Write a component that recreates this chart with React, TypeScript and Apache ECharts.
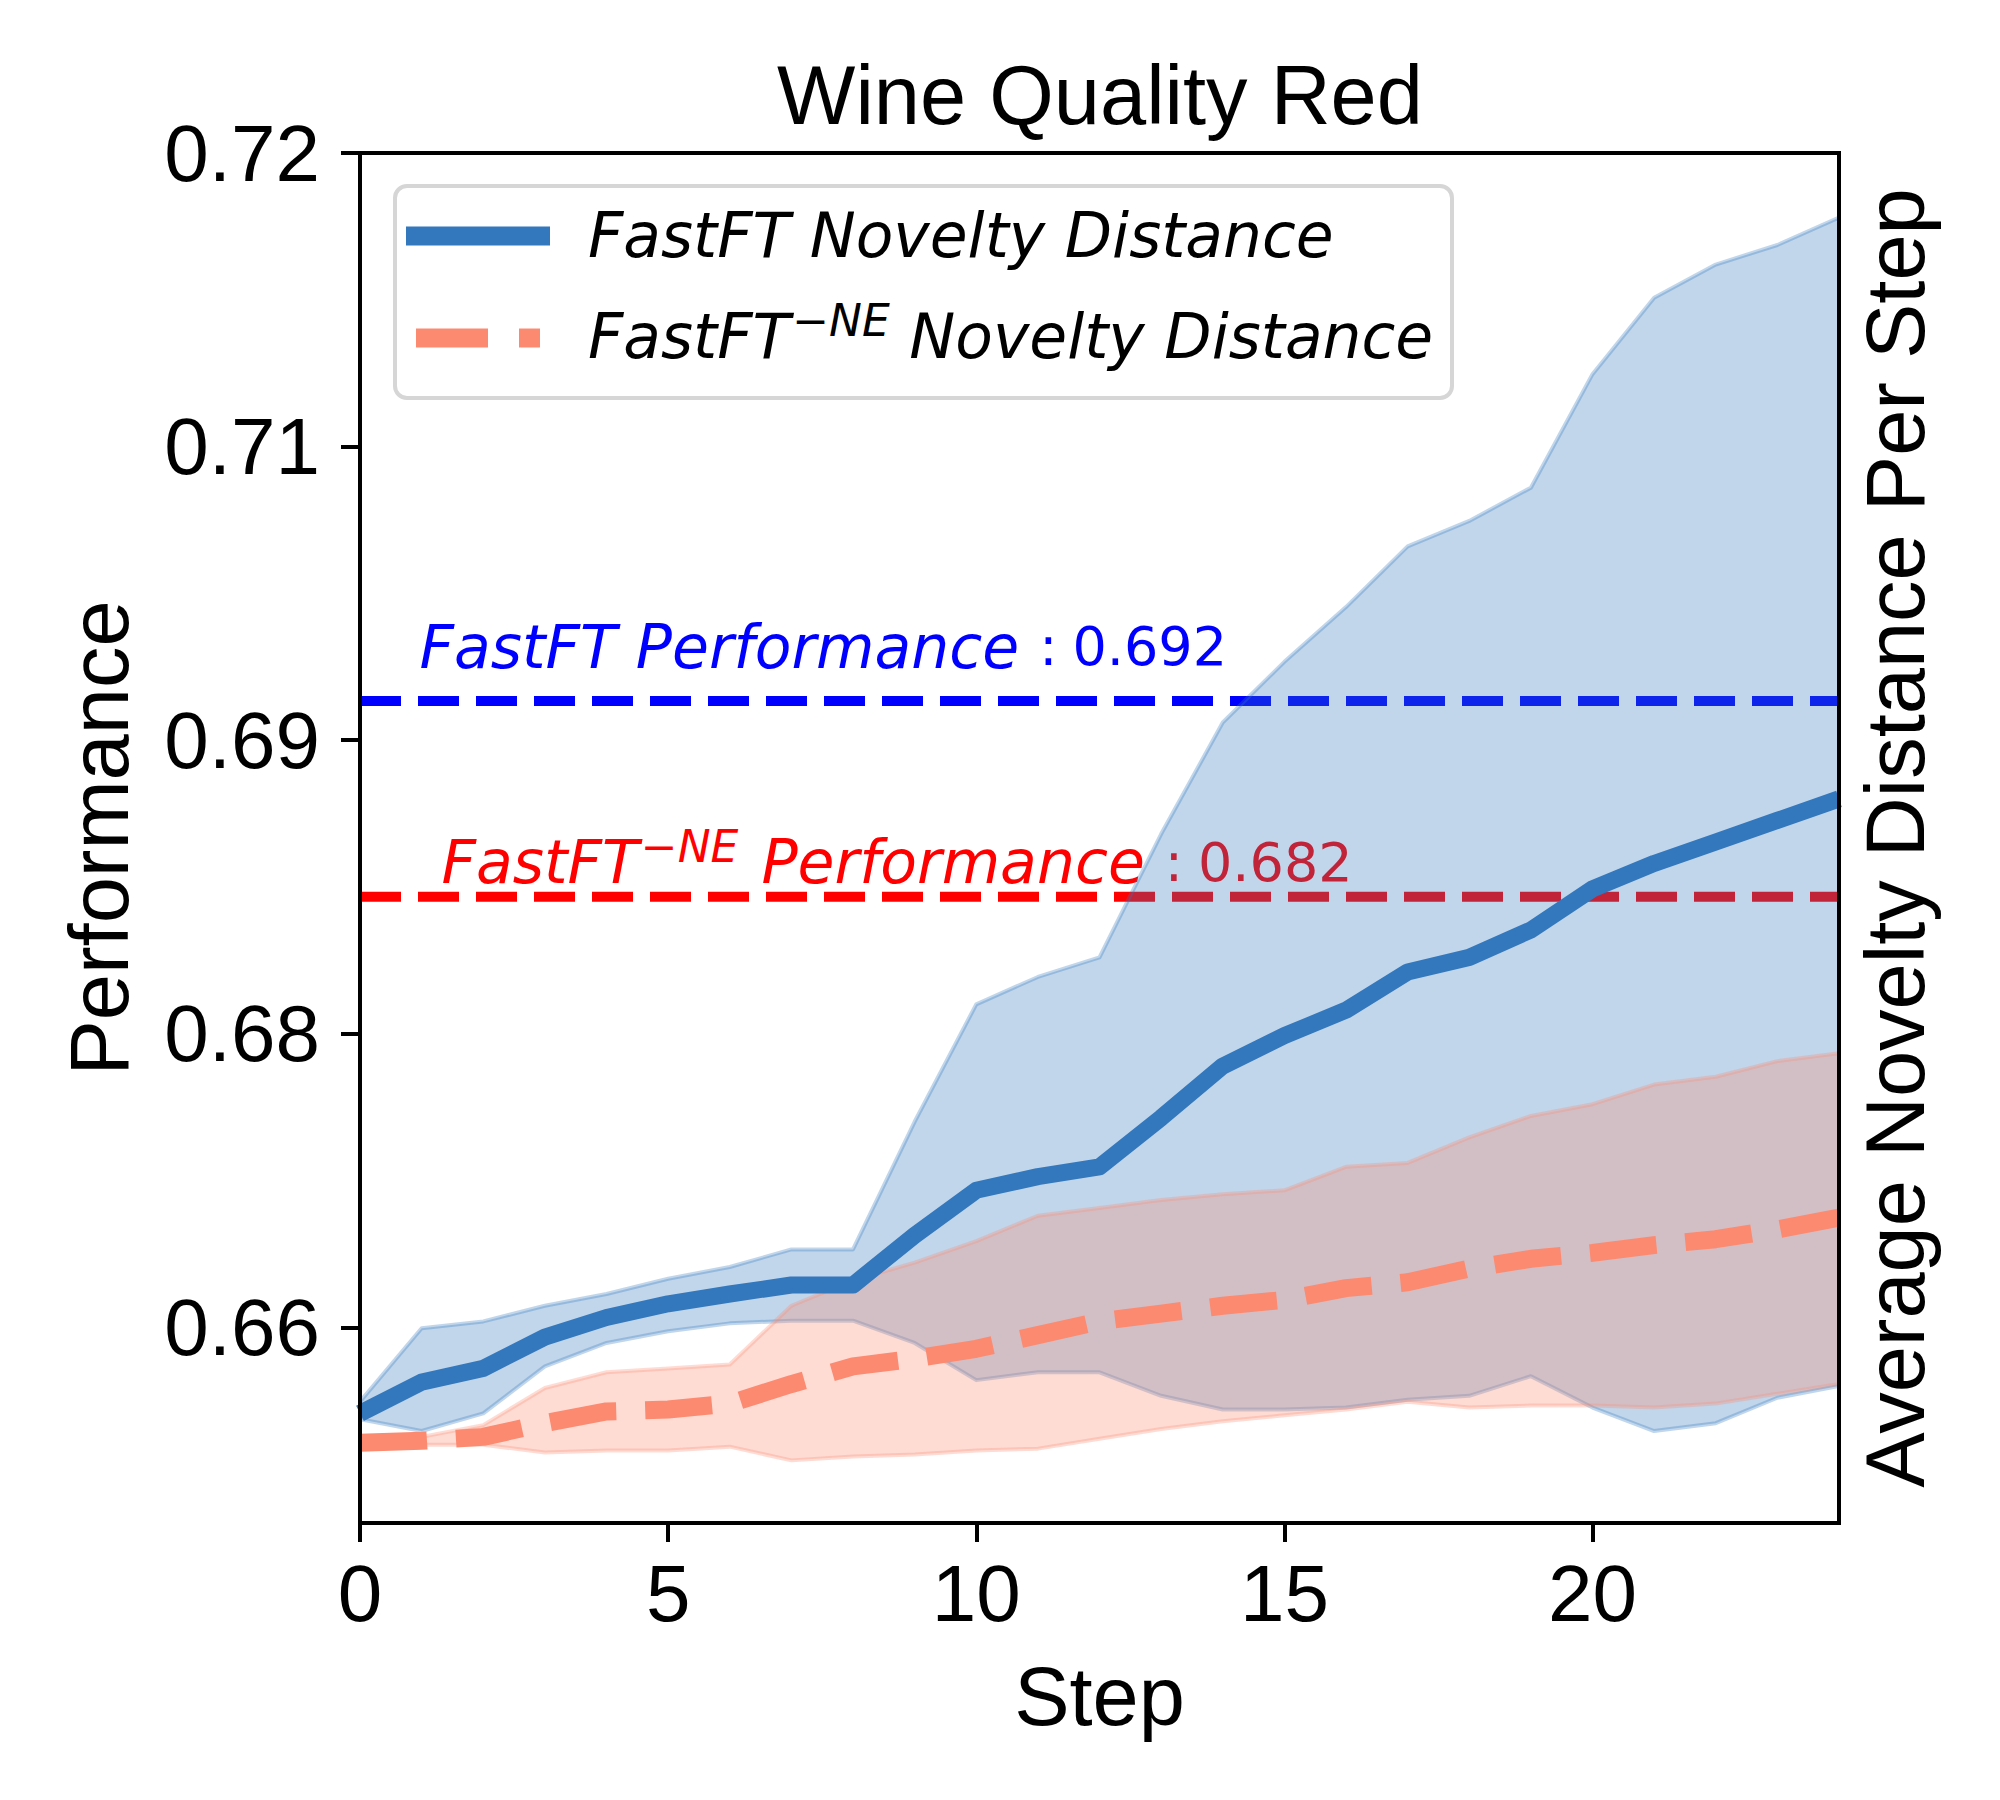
import React, { useEffect, useRef } from "react";
import * as echarts from "echarts";

// ---------------- data ----------------
const steps = [0, 1, 2, 3, 4, 5, 6, 7, 8, 9, 10, 11, 12, 13, 14, 15, 16, 17, 18, 19, 20, 21, 22, 23, 24];

const blueMean = [
  0.6556, 0.6572, 0.6579, 0.6595, 0.6605, 0.6612, 0.6617, 0.66216, 0.66216, 0.6647,
  0.667, 0.6677, 0.6682, 0.6707, 0.67335, 0.6749, 0.6762, 0.67815, 0.6789, 0.6803,
  0.6824, 0.6837, 0.6848, 0.6859, 0.687,
];
const blueUpper = [
  0.6562, 0.65995, 0.6603, 0.6611, 0.6617, 0.66248, 0.66308, 0.66398, 0.66398, 0.6705,
  0.6765, 0.6779, 0.6789, 0.6852, 0.6909, 0.694, 0.6968, 0.6999, 0.7012, 0.7029,
  0.7087, 0.7126, 0.7143, 0.7153, 0.7167,
];
const blueLower = [
  0.6553, 0.6547, 0.6556, 0.658, 0.6592, 0.6598, 0.6602, 0.66034, 0.66034, 0.6592,
  0.6573, 0.6577, 0.6577, 0.6565, 0.6558, 0.6558, 0.6559, 0.6563, 0.6565, 0.6575,
  0.6559, 0.6547, 0.6551, 0.6564, 0.657,
];
const salmonMean = [
  0.6541, 0.6542, 0.6544, 0.6551, 0.6557, 0.6558, 0.6561, 0.6571, 0.658, 0.6584,
  0.6589, 0.6596, 0.6603, 0.6607, 0.6611, 0.6614, 0.662, 0.6623, 0.663, 0.6635,
  0.6638, 0.6642, 0.6645, 0.665, 0.6656,
];
const salmonUpper = [
  0.6543, 0.6544, 0.655, 0.6569, 0.6577, 0.6579, 0.6581, 0.6611, 0.6624, 0.6633,
  0.6644, 0.6657, 0.6661, 0.6665, 0.6668, 0.667, 0.6682, 0.6684, 0.6697, 0.6708,
  0.6714, 0.6724, 0.6728, 0.6736, 0.674,
];
const salmonLower = [
  0.654, 0.654, 0.654, 0.6536, 0.6537, 0.6537, 0.6539, 0.6532, 0.6534, 0.6535,
  0.6537, 0.6538, 0.6543, 0.6548, 0.6552, 0.6555, 0.6558, 0.6562, 0.6559, 0.656,
  0.656, 0.6559, 0.6561, 0.6566, 0.6571,
];

const fastftPerf = 0.692;
const fastftNePerf = 0.682;

const xTickValues = [0, 5, 10, 15, 20];
const yTickValues = [0.66, 0.675, 0.69, 0.705, 0.72];
const yTickLabels = ["0.66", "0.68", "0.69", "0.71", "0.72"];

// text anchor positions (data coordinates)
const annoBlueAt = [0.958, 0.69476];
const annoRedAt = [1.315, 0.68377];

// ---------------- styles ----------------
const SANS = "'Liberation Sans', Arial, Helvetica, sans-serif";
const MATH = "'DejaVu Sans', sans-serif";
const BLUE = "#3377BD";
const BLUE_FILL = "rgba(51,119,189,0.3)";
const SALMON = "#FC8A70";
const SALMON_FILL = "rgba(252,138,112,0.3)";
const PURE_BLUE = "#0000FF";
const PURE_RED = "#FF0000";

function bandSeries(upper: number[], lower: number[], fill: string, z: number) {
  return {
    type: "custom",
    z,
    silent: true,
    clip: true,
    data: steps.map((s, i) => [s, upper[i], lower[i]]),
    encode: { x: 0, y: [1, 2] },
    renderItem: (params: any, api: any) => {
      if (params.dataIndex !== 0) return null;
      const pts: number[][] = [];
      for (let i = 0; i < steps.length; i++) pts.push(api.coord([steps[i], upper[i]]));
      for (let i = steps.length - 1; i >= 0; i--) pts.push(api.coord([steps[i], lower[i]]));
      return {
        type: "polygon",
        shape: { points: pts },
        style: { fill, stroke: fill, lineWidth: 4, lineJoin: "round" },
      };
    },
  };
}

function hline(value: number, color: string) {
  return {
    type: "line",
    z: 1,
    silent: true,
    symbol: "none",
    data: [
      [steps[0], value],
      [steps[steps.length - 1], value],
    ],
    lineStyle: { color, width: 10, type: [41, 17], cap: "butt" },
  };
}

function annotation(at: number[], formatter: string, rich: any) {
  return {
    type: "scatter",
    z: 1,
    silent: true,
    symbol: "circle",
    symbolSize: 1,
    itemStyle: { color: "rgba(0,0,0,0)", opacity: 1 },
    data: [at],
    label: {
      show: true,
      position: "right",
      distance: 0,
      opacity: 1,
      formatter,
      rich,
    },
  };
}

export default function App() {
  const ref = useRef<HTMLDivElement>(null);

  useEffect(() => {
    if (!ref.current) return;
    const chart = echarts.init(ref.current, undefined, { renderer: "svg" });

    const axisLineStyle = { color: "#000", width: 4, cap: "square" };
    const nameStyle = { fontSize: 83, fontFamily: SANS, color: "#000" };

    const option: any = {
      animation: false,
      backgroundColor: "#fff",
      grid: { left: 360, right: 161, top: 153, bottom: 277, containLabel: false },
      xAxis: [
        {
          type: "value",
          position: "bottom",
          min: 0,
          max: 24,
          z: 10,
          axisLine: { show: true, onZero: false, lineStyle: axisLineStyle },
          axisTick: { show: true, length: 19, lineStyle: { color: "#000", width: 4 }, customValues: xTickValues },
          axisLabel: {
            show: true,
            customValues: xTickValues,
            fontSize: 80,
            fontFamily: SANS,
            color: "#000",
            margin: 30,
          },
          splitLine: { show: false },
          name: "Step",
          nameLocation: "middle",
          nameGap: 132,
          nameTextStyle: nameStyle,
        },
        {
          type: "value",
          position: "top",
          min: 0,
          max: 24,
          z: 10,
          axisLine: { show: true, onZero: false, lineStyle: axisLineStyle },
          axisTick: { show: false },
          axisLabel: { show: false },
          splitLine: { show: false },
        },
      ],
      yAxis: [
        {
          type: "value",
          position: "left",
          min: 0.65,
          max: 0.72,
          z: 10,
          axisLine: { show: true, onZero: false, lineStyle: axisLineStyle },
          axisTick: { show: true, length: 19, lineStyle: { color: "#000", width: 4 }, customValues: yTickValues },
          axisLabel: {
            show: true,
            customValues: yTickValues,
            fontSize: 80,
            fontFamily: SANS,
            color: "#000",
            margin: 40,
            formatter: (v: number) => {
              const idx = yTickValues.findIndex((t) => Math.abs(t - v) < 1e-9);
              return idx >= 0 ? yTickLabels[idx] : "";
            },
          },
          splitLine: { show: false },
          name: "Performance",
          nameLocation: "middle",
          nameRotate: 90,
          nameGap: 219,
          nameTextStyle: nameStyle,
        },
        {
          type: "value",
          position: "right",
          min: 0,
          max: 1,
          z: 10,
          axisLine: { show: true, onZero: false, lineStyle: axisLineStyle },
          axisTick: { show: false },
          axisLabel: { show: false },
          splitLine: { show: false },
          name: "Average Novelty Distance Per Step",
          nameLocation: "middle",
          nameRotate: 90,
          nameGap: 15,
          nameTextStyle: nameStyle,
        },
      ],
      series: [
        hline(fastftPerf, PURE_BLUE),
        hline(fastftNePerf, PURE_RED),
        annotation(annoBlueAt, `{a|FastFT Performance}{c|:}{b|${fastftPerf.toFixed(3)}}`, {
          a: { fontFamily: MATH, fontStyle: "italic", fontSize: 60, lineHeight: 60, color: PURE_BLUE },
          c: { fontFamily: MATH, fontSize: 54, lineHeight: 60, color: PURE_BLUE, padding: [0, 15, 0, 20] },
          b: { fontFamily: MATH, fontSize: 54, lineHeight: 60, color: PURE_BLUE },
        }),
        annotation(
          annoRedAt,
          `{a|FastFT}{m|\u2212}{s|NE}{p| Performance}{c|:}{b|${fastftNePerf.toFixed(3)}}`,
          {
            a: { fontFamily: MATH, fontStyle: "italic", fontSize: 60, lineHeight: 76, color: PURE_RED },
            m: { fontFamily: MATH, fontSize: 44, lineHeight: 44, verticalAlign: "top", color: PURE_RED, padding: [0, 0, 0, 2] },
            s: { fontFamily: MATH, fontStyle: "italic", fontSize: 44, lineHeight: 44, verticalAlign: "top", color: PURE_RED },
            p: { fontFamily: MATH, fontStyle: "italic", fontSize: 60, lineHeight: 76, color: PURE_RED, padding: [0, 0, 0, 4] },
            c: { fontFamily: MATH, fontSize: 54, lineHeight: 76, color: PURE_RED, padding: [0, 15, 0, 20] },
            b: { fontFamily: MATH, fontSize: 54, lineHeight: 76, color: PURE_RED },
          }
        ),
        bandSeries(blueUpper, blueLower, BLUE_FILL, 2),
        bandSeries(salmonUpper, salmonLower, SALMON_FILL, 3),
        {
          type: "line",
          name: "FastFT Novelty Distance",
          z: 4,
          silent: true,
          symbol: "none",
          data: steps.map((s, i) => [s, blueMean[i]]),
          lineStyle: { color: BLUE, width: 17, cap: "butt", join: "round" },
        },
        {
          type: "line",
          name: "FastFT-NE Novelty Distance",
          z: 5,
          silent: true,
          symbol: "none",
          data: steps.map((s, i) => [s, salmonMean[i]]),
          lineStyle: { color: SALMON, width: 18, type: [67, 29], cap: "butt", join: "round" },
        },
      ],
      graphic: {
        elements: [
          {
            type: "text",
            z: 100,
            silent: true,
            style: {
              x: 1100,
              y: 95,
              text: "Wine Quality Red",
              fontSize: 83,
              fontFamily: SANS,
              fill: "#000",
              align: "center",
              verticalAlign: "middle",
            },
          },
          {
            type: "rect",
            z: 100,
            silent: true,
            shape: { x: 395, y: 186, width: 1057, height: 212, r: 12 },
            style: { fill: "rgba(255,255,255,0.8)", stroke: "#D6D6D6", lineWidth: 4 },
          },
          {
            type: "line",
            z: 101,
            silent: true,
            shape: { x1: 406, y1: 236, x2: 550, y2: 236 },
            style: { stroke: BLUE, lineWidth: 19, lineCap: "butt" },
          },
          {
            type: "line",
            z: 101,
            silent: true,
            shape: { x1: 416, y1: 338, x2: 488, y2: 338 },
            style: { stroke: SALMON, lineWidth: 19, lineCap: "butt" },
          },
          {
            type: "line",
            z: 101,
            silent: true,
            shape: { x1: 519, y1: 338, x2: 540, y2: 338 },
            style: { stroke: SALMON, lineWidth: 19, lineCap: "butt" },
          },
          {
            type: "text",
            z: 101,
            silent: true,
            style: {
              x: 588,
              y: 236,
              text: "FastFT Novelty Distance",
              fontSize: 61.5,
              fontFamily: MATH,
              fontStyle: "italic",
              fill: "#000",
              align: "left",
              verticalAlign: "middle",
            },
          },
          {
            type: "text",
            z: 101,
            silent: true,
            style: {
              x: 588,
              y: 337,
              text: "{a|FastFT}{m|\u2212}{s|NE}{a| Novelty Distance}",
              align: "left",
              verticalAlign: "middle",
              fill: "#000",
              fontSize: 61.5,
              fontFamily: MATH,
              rich: {
                a: { fontFamily: MATH, fontStyle: "italic", fontSize: 61.5, lineHeight: 78, fill: "#000" },
                m: { fontFamily: MATH, fontSize: 44, lineHeight: 44, verticalAlign: "top", fill: "#000", padding: [0, 0, 0, 2] },
                s: { fontFamily: MATH, fontStyle: "italic", fontSize: 44, lineHeight: 44, verticalAlign: "top", fill: "#000" },
              },
            },
          },
        ],
      },
    };

    chart.setOption(option);
    return () => {
      chart.dispose();
    };
  }, []);

  return (
    <div
      ref={ref}
      style={{ position: "absolute", left: 0, top: 0, width: 2000, height: 1800, background: "#fff" }}
    />
  );
}
